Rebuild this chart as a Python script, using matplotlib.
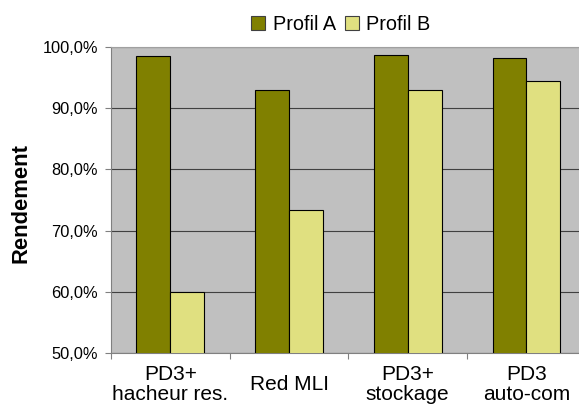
import matplotlib
matplotlib.use("Agg")
import matplotlib.pyplot as plt
import numpy as np
from matplotlib.patches import Patch
from matplotlib.ticker import FuncFormatter, FixedLocator

plt.rcParams['font.family'] = ['Liberation Sans', 'DejaVu Sans']

categories = ["PD3+\nhacheur res.", "Red MLI", "PD3+\nstockage", "PD3\nauto-com"]
series_names = ["Profil A", "Profil B"]
profil_a = [98.5, 93.0, 98.7, 98.1]
profil_b = [60.0, 73.4, 92.9, 94.4]
y_ticks = [50, 60, 70, 80, 90, 100]

col_a = "#808000"
col_b = "#E0E080"

fig = plt.figure(figsize=(5.79, 4.05), dpi=100)
ax = fig.add_axes([111/579, 1 - 353.3/405, 474.8/579, 306.6/405])
ax.set_facecolor("#C0C0C0")

x = np.arange(len(categories))
w = 0.286
ax.bar(x - w/2, profil_a, w, bottom=0, color=col_a, edgecolor="black", linewidth=0.8, zorder=3)
ax.bar(x + w/2, profil_b, w, bottom=0, color=col_b, edgecolor="black", linewidth=0.8, zorder=3)

ax.set_ylim(50, 100)
ax.set_xlim(-0.5, 3.5)
ax.yaxis.set_major_locator(FixedLocator(y_ticks))
ax.yaxis.set_major_formatter(FuncFormatter(lambda v, p: ("%.1f%%" % v).replace(".", ",")))
ax.grid(axis="y", color="#404040", linewidth=0.8, zorder=1)

# category boundaries as major ticks, labels on minor ticks
ax.set_xticks(np.arange(-0.5, len(categories), 1.0))
ax.set_xticklabels([])
ax.set_xticks(x, minor=True)
ax.set_xticklabels(categories, minor=True, fontsize=15, linespacing=1.12)
for lbl in ax.get_xticklabels(minor=True):
    lbl.set_verticalalignment("center")
ax.tick_params(axis="x", which="minor", length=0, pad=22.5)
ax.tick_params(axis="x", which="major", length=4.3, color="#808080", width=0.8)
ax.tick_params(axis="y", length=4.3, color="#808080", width=0.8, labelsize=11.8, pad=5)

for s in ["left", "bottom"]:
    ax.spines[s].set_color("#808080")
    ax.spines[s].set_linewidth(0.8)
ax.spines["top"].set_color("#A0A0A0")
ax.spines["right"].set_visible(False)

fig.text(21/579, 0.499, "Rendement", rotation=90, ha="center", va="center",
         fontsize=15.8, fontweight="bold")

handles = [Patch(facecolor=col_a, edgecolor="#404040", linewidth=0.8),
           Patch(facecolor=col_b, edgecolor="#404040", linewidth=0.8)]
fig.legend(handles, series_names, loc="center", bbox_to_anchor=(341/579, 1 - 24/405),
           ncol=2, frameon=False, fontsize=14.3, handlelength=0.7, handleheight=0.7,
           handletextpad=0.37, columnspacing=0.48, borderpad=0)

fig.savefig("out.png", dpi=100)
